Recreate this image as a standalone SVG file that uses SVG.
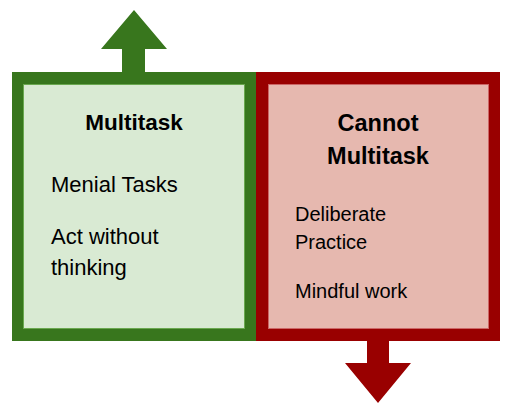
<svg xmlns="http://www.w3.org/2000/svg" width="511" height="411" viewBox="0 0 511 411">
<style>
  text { font-family: "Liberation Sans", Arial, sans-serif; fill: #000; }
  .h { font-weight: bold; text-anchor: middle; }
  .b { font-size: 22px; }
  .s { font-size: 20px; }
</style>
<rect width="511" height="411" fill="#fff"/>
<g id="connectors">
  <polygon points="122,73 122,49 101,49 134,10 167,49 145,49 145,73" fill="#38761d"/>
  <polygon points="367,340 367,363 345,363 378,403 411,363 389,363 389,340" fill="#990000"/>
</g>
<g id="multitask">
  <rect x="12" y="72" width="244" height="269" fill="#38761d"/>
  <rect x="23.5" y="84.5" width="221" height="244" fill="#d9ead3" stroke="#6aa84f" stroke-width="1"/>
  <text class="h" x="134" y="130" font-size="22.5">Multitask</text>
  <text class="b" x="51" y="192">Menial Tasks</text>
  <text class="b" x="51" y="244">Act without</text>
  <text class="b" x="51" y="275">thinking</text>
</g>
<g id="cannot-multitask">
  <rect x="256" y="72" width="244" height="269" fill="#990000"/>
  <rect x="268.5" y="84.5" width="220" height="244" fill="#e6b8af" stroke="#cc6666" stroke-width="1"/>
  <text class="h" x="378" y="131" font-size="23.5">Cannot</text>
  <text class="h" x="378" y="164" font-size="23.5">Multitask</text>
  <text class="s" x="295" y="221">Deliberate</text>
  <text class="s" x="295" y="249">Practice</text>
  <text class="s" x="295" y="298">Mindful work</text>
</g>
</svg>
